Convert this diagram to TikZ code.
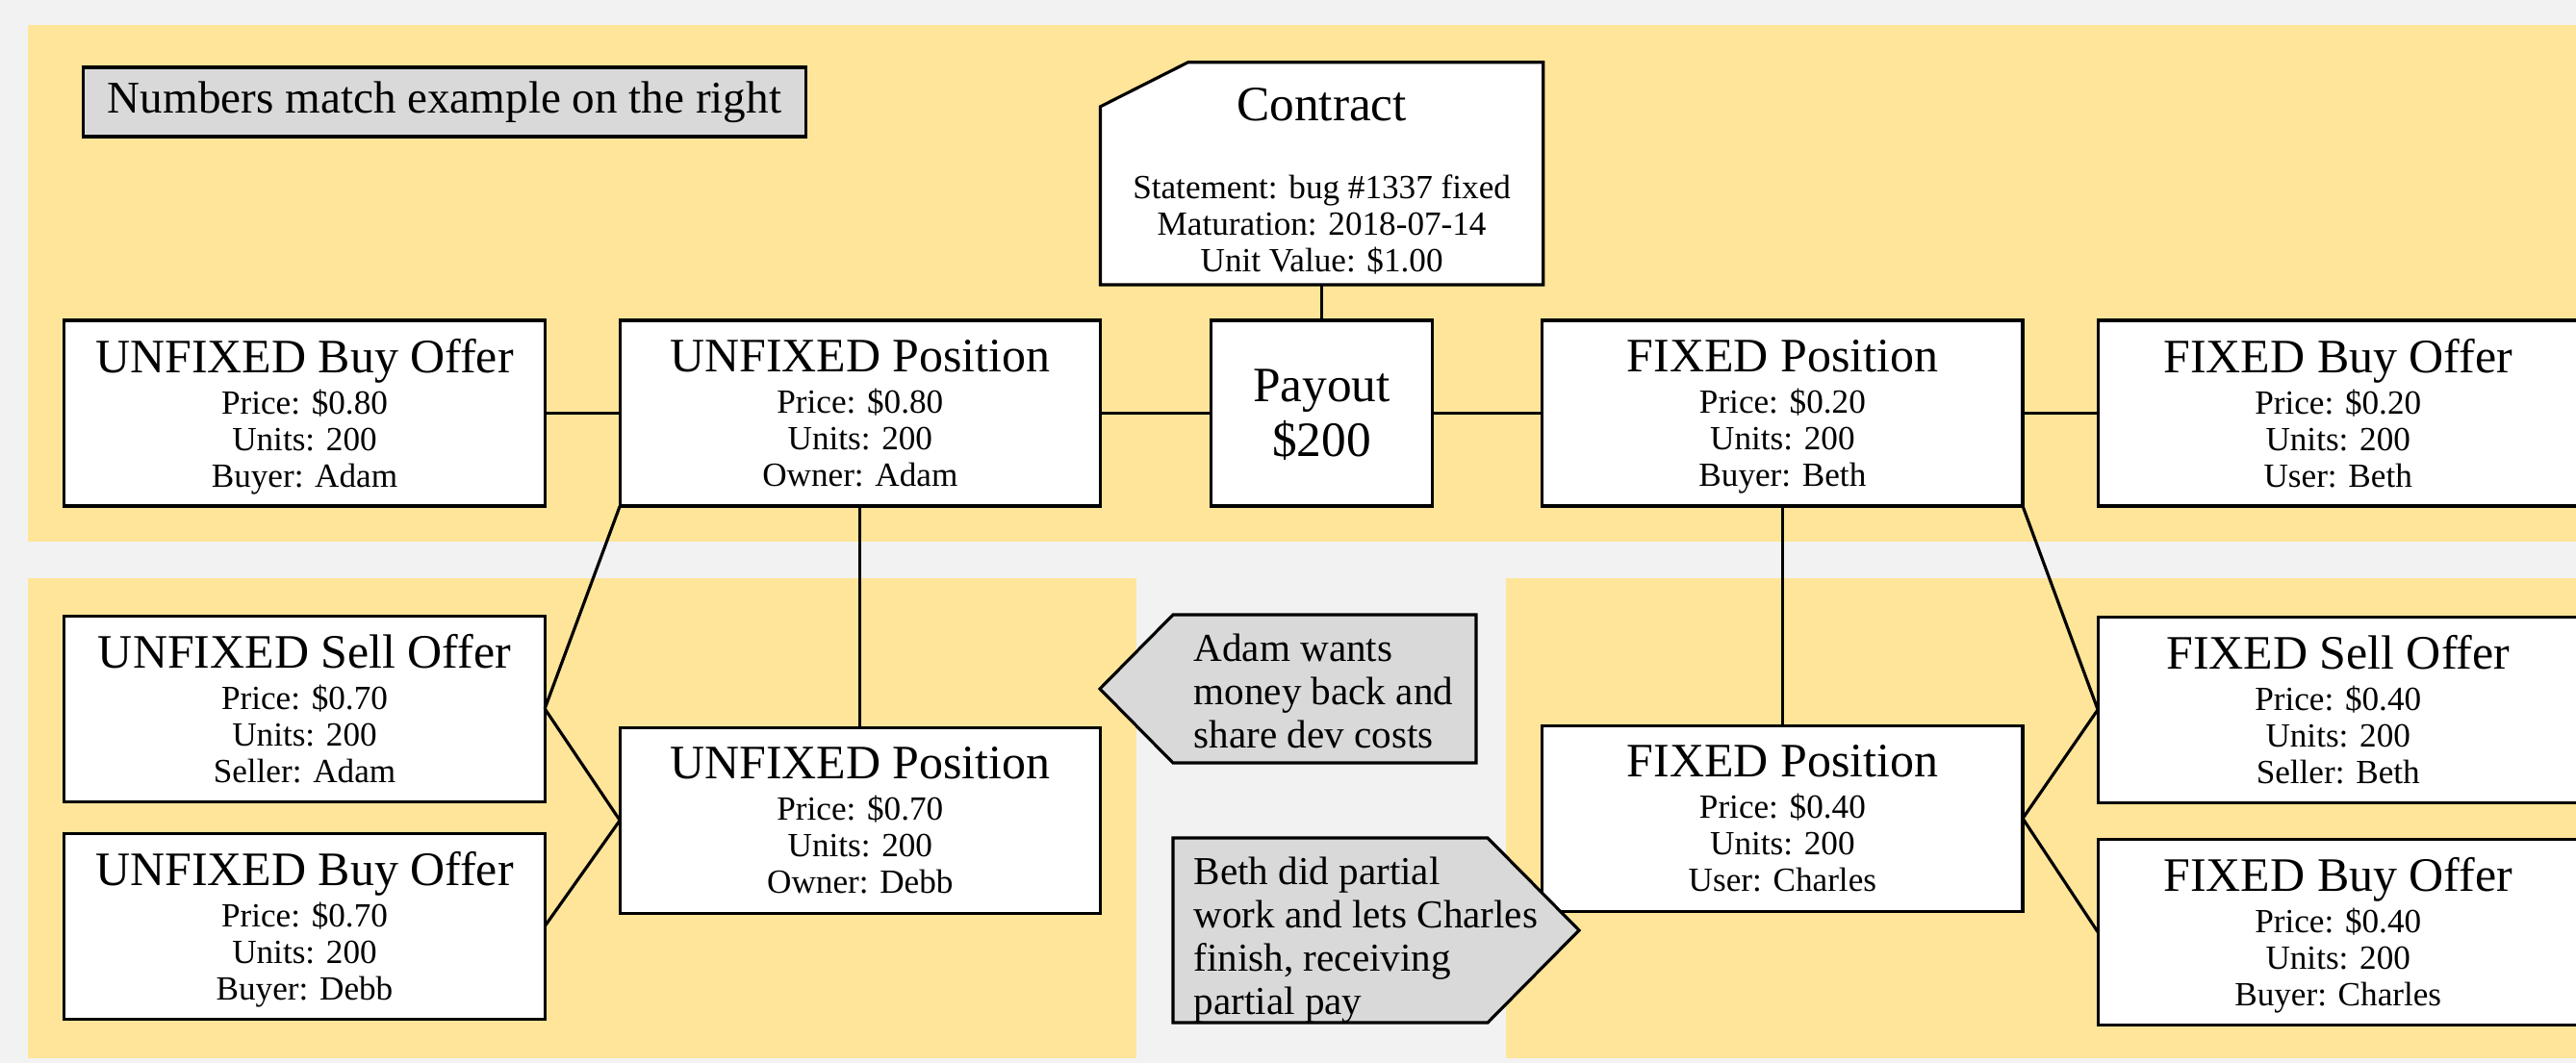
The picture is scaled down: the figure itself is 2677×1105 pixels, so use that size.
\documentclass[tikz,border=0pt]{standalone}
\usepackage{fontspec}
\setmainfont{Liberation Serif}
\usepackage{tikz}
\usetikzlibrary{positioning}
\definecolor{bandyellow}{HTML}{FFE599}
\definecolor{notegray}{HTML}{D9D9D9}
\definecolor{pagegray}{HTML}{F2F2F2}
\newcommand{\boxtitle}{\fontsize{14.2}{17}\selectfont}
\newcommand{\boxbody}{\fontsize{10}{10.8}\selectfont}
\newcommand{\bigtitle}{\fontsize{14.6}{16.2}\selectfont}
\newcommand{\calltext}{\fontsize{11.7}{12.8}\selectfont}
\newcommand{\headtext}{\fontsize{13.4}{16}\selectfont}
\tikzset{
card/.style={
  rectangle,
  inner sep=0pt,
  outer sep=0pt,
  minimum width=4.99cm,
  minimum height=1.93cm,
  align=center,
  font=\boxbody,
  text depth=-1.6pt,
  draw=black,
  fill=white
  },
greynote/.style={
  rectangle,
  inner sep=0pt,
  outer sep=0pt,
  minimum width=7.50cm,
  minimum height=0.72cm,
  font=\headtext,
  draw=black,
  fill=notegray
  },
calltag/.style={
  inner sep=0pt,
  align=left,
  anchor=north west,
  font=\calltext
  }
}

\begin{document}
\begin{tikzpicture}[x=0.01cm,y=-0.01cm,line width=0.9pt]
  \useasboundingbox (0,0) rectangle (2677,1105);
  \fill[pagegray] (0,0) rectangle (2677,1105);
  % yellow bands
  \fill[bandyellow] (29,26) rectangle (2700,563);
  \fill[bandyellow] (29,601) rectangle (1181,1100);
  \fill[bandyellow] (1565,601) rectangle (2700,1100);

  \node[greynote] (numbers) at (462,106) {Numbers match example on the right};

  % top row
  \node[card] (ubuy1) at (316.5,429.5) {{\boxtitle UNFIXED Buy Offer}\\[1.4pt] Price: \$0.80\\ Units: 200\\ Buyer: Adam};
  \node[card] (upos1) [right=0.78cm of ubuy1] {{\boxtitle UNFIXED Position}\\[1.4pt] Price: \$0.80\\ Units: 200\\ Owner: Adam};
  \node[card,minimum width=2.30cm,font=\bigtitle,text depth=0pt] (payout) [right=1.15cm of upos1] {Payout\\ \$200};
  \node[card] (fpos1) [right=1.14cm of payout] {{\boxtitle FIXED Position}\\[1.4pt] Price: \$0.20\\ Units: 200\\ Buyer: Beth};
  \node[card] (fbuy1) [right=0.78cm of fpos1] {{\boxtitle FIXED Buy Offer}\\[1.4pt] Price: \$0.20\\ Units: 200\\ User: Beth};

  % contract with cut corner
  \node[card,draw=none,fill=none,minimum width=4.60cm,minimum height=2.31cm] (contract) [above=0.37cm of payout] {};
  \draw[fill=white] ([yshift=-0.46cm]contract.north west) -- ([xshift=0.91cm]contract.north west)
    -- (contract.north east) -- (contract.south east) -- (contract.south west) -- cycle;
  \node[inner sep=0pt,align=center,font=\boxbody] (contracttext) [below=0.255cm of contract.north]
    {{\bigtitle Contract}\\[12.2pt] Statement: bug \#1337 fixed\\ Maturation: 2018-07-14\\ Unit Value: \$1.00};

  % lower rows
  \node[card] (usell) [below=1.14cm of ubuy1] {{\boxtitle UNFIXED Sell Offer}\\[1.4pt] Price: \$0.70\\ Units: 200\\ Seller: Adam};
  \node[card] (ubuy2) [below=0.33cm of usell] {{\boxtitle UNFIXED Buy Offer}\\[1.4pt] Price: \$0.70\\ Units: 200\\ Buyer: Debb};
  \node[card] (upos2) [below=2.30cm of upos1] {{\boxtitle UNFIXED Position}\\[1.4pt] Price: \$0.70\\ Units: 200\\ Owner: Debb};
  \node[card] (fpos2) [below=2.28cm of fpos1] {{\boxtitle FIXED Position}\\[1.4pt] Price: \$0.40\\ Units: 200\\ User: Charles};
  \node[card] (fsell) [below=1.15cm of fbuy1] {{\boxtitle FIXED Sell Offer}\\[1.4pt] Price: \$0.40\\ Units: 200\\ Seller: Beth};
  \node[card] (fbuy2) [below=0.38cm of fsell] {{\boxtitle FIXED Buy Offer}\\[1.4pt] Price: \$0.40\\ Units: 200\\ Buyer: Charles};

  \path
  (ubuy1) edge (upos1)
  (upos1) edge (payout)
  (payout) edge (fpos1)
  (fpos1) edge (fbuy1)
  (contract) edge (payout)
  (upos1.south) edge (upos2.north)
  (upos1.south west) edge (usell.east)
  (usell.east) edge (upos2.west)
  (ubuy2.east) edge (upos2.west)
  (fpos1.south) edge (fpos2.north)
  (fpos1.south east) edge (fsell.west)
  (fsell.west) edge (fpos2.east)
  (fbuy2.west) edge (fpos2.east)
  ;

  % callouts
  \draw[fill=notegray] (1143,716) -- (1219,639) -- (1534,639) -- (1534,793) -- (1219,793) -- cycle;
  \node[calltag] (adamnote) at (1239,657) {Adam wants\\ money back and\\ share dev costs};
  \draw[fill=notegray] (1219,871) -- (1546,871) -- (1641,967) -- (1546,1063) -- (1219,1063) -- cycle;
  \node[calltag] (bethnote) at (1239,889) {Beth did partial\\ work and lets Charles\\ finish, receiving\\ partial pay};
\end{tikzpicture}
\end{document}
